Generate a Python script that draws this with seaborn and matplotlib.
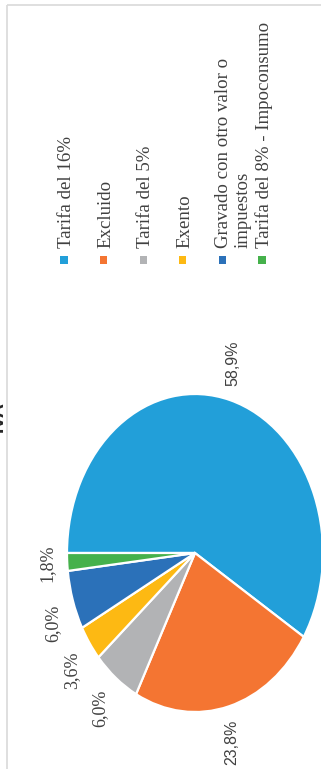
import numpy as np
import matplotlib
matplotlib.use("Agg")
import matplotlib.pyplot as plt
import seaborn as sns

# IVA breakdown (chart is drawn rotated 90 degrees)
categories = ["Tarifa del 16%", "Excluido", "Tarifa del 5%", "Exento",
              "Gravado con otro valor o\nimpuestos", "Tarifa del 8% - Impoconsumo"]
shares = [58.9, 23.8, 6.0, 3.6, 6.0, 1.8]
pct_labels = ["58,9%", "23,8%", "6,0%", "3,6%", "6,0%", "1,8%"]
title = "IVA"

colors = ["#229FD9", "#F47532", "#B2B3B5", "#FDB913", "#2B71B9", "#45B14B"]

sns.set_theme(style="white")
plt.rcParams["font.family"] = ["Liberation Serif", "DejaVu Serif"]

W, H = 321, 769
fig = plt.figure(figsize=(W / 100, H / 100), dpi=100)
fig.patch.set_facecolor("white")

# pie axes: ellipse centred at (195, 553) px, radii 128 x 159 px
cx, cy, rx, ry = 195, 553, 128, 159
ax = fig.add_axes([0, 0, 1, 1])
wedges, _ = ax.pie(shares, colors=colors, startangle=180, counterclock=False,
                   wedgeprops=dict(edgecolor="white", linewidth=1.6))
ax.set_aspect("auto")
ax.set_xlim(-cx / rx, (W - cx) / rx)
ax.set_ylim((cy - H) / ry, cy / ry)
ax.axis("off")

for i, w in enumerate(wedges):
    mid = np.deg2rad((w.theta1 + w.theta2) / 2)
    c, s = np.cos(mid), np.sin(mid)
    r = 1.09
    ha = "left" if c > 0.3 else ("right" if c < -0.3 else "center")
    va = "bottom" if s > 0.1 else ("top" if s < -0.1 else "center")
    fam = ["Liberation Sans", "DejaVu Sans"] if i < 2 else ["Liberation Serif", "DejaVu Serif"]
    size = 11.5 if i < 2 else 13
    ax.text(r * c, r * s, pct_labels[i], rotation=90, ha=ha, va=va,
            family=fam, fontsize=size, color="#404040")

# overlay in pixel coordinates for frame, title and legend
ov = fig.add_axes([0, 0, 1, 1], facecolor="none")
ov.set_xlim(0, W)
ov.set_ylim(H, 0)
ov.axis("off")

ov.plot([7, 7], [H + 5, 5], color="#D9D9D9", lw=1.2, solid_capstyle="butt")
ov.plot([7, W + 5], [5, 5], color="#D9D9D9", lw=1.2, solid_capstyle="butt")

ov.text(3, 416, title, rotation=90, rotation_mode="anchor", ha="center",
        va="baseline", family=["Liberation Sans", "DejaVu Sans"],
        fontweight="bold", fontsize=14, color="#262626")

leg_x = 64 + 39.6 * np.arange(len(categories))
ov.scatter(leg_x, np.full(len(categories), 260), marker="s", s=26,
           c=colors, linewidths=0)
for x, lab in zip(leg_x, categories):
    # baseline anchor sits on the last line, so push it right for wrapped labels
    extra = 15.5 * lab.count("\n")
    ov.text(x + 7 + extra, 248, lab, rotation=90, rotation_mode="anchor",
            ha="left", va="baseline", fontsize=13.6, color="#404040")

fig.savefig("out.png", dpi=100)
